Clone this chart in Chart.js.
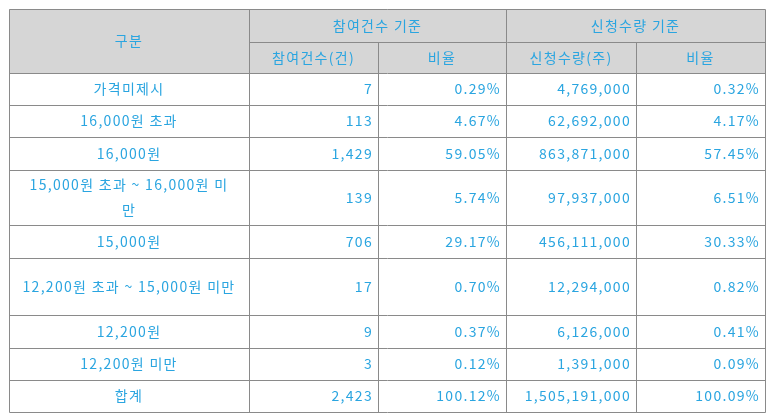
<!DOCTYPE html>
<html><head><meta charset="utf-8">
<script src="https://cdn.jsdelivr.net/npm/chart.js@4"></script>
<style>html,body{margin:0;padding:0;background:#fff}#w{width:773px;height:420px}</style>
</head><body><div id="w"><canvas id="c"></canvas></div>
<script>
const categories = ["가격미제시","16,000원 초과","16,000원","15,000원 초과 ~ 16,000원 미\n만","15,000원","12,200원 초과 ~ 15,000원 미만","12,200원","12,200원 미만","합계"];
const countValues = ["7","113","1,429","139","706","17","9","3","2,423"];
const countRatio = ["0.29%","4.67%","59.05%","5.74%","29.17%","0.70%","0.37%","0.12%","100.12%"];
const qtyValues = ["4,769,000","62,692,000","863,871,000","97,937,000","456,111,000","12,294,000","6,126,000","1,391,000","1,505,191,000"];
const qtyRatio = ["0.32%","4.17%","57.45%","6.51%","30.33%","0.82%","0.41%","0.09%","100.09%"];
const groupHeaders = ["구분","참여건수 기준","신청수량 기준"];
const subHeaders = ["참여건수(건)","비율","신청수량(주)","비율"];

// layout (not data)
const colEdges = [0,240,369,497,627,756];
const rowHeights = [33,31,32,32,33,55,33,57,33,32,32];
const rowEdges = [0]; rowHeights.forEach(h=>rowEdges.push(rowEdges[rowEdges.length-1]+h));
const TXT = '#2aa5e0', LINE = '#8a8a8a', HDR = '#d6d6d6';
const FONT = '14px "Noto Sans CJK KR", sans-serif';

const tablePlugin = {
  id:'table',
  afterDraw(chart){
    const ctx = chart.ctx, xs = chart.scales.x, ys = chart.scales.y;
    const X = v=>xs.getPixelForValue(v), Y = v=>ys.getPixelForValue(v);
    ctx.save();
    ctx.fillStyle = HDR;
    ctx.fillRect(X(0),Y(0),X(756)-X(0),Y(rowEdges[2])-Y(0));
    ctx.font = FONT; ctx.fillStyle = TXT; ctx.textBaseline='middle';
    try{ctx.letterSpacing='1.3px';}catch(e){}
    function text(s,x0,x1,r0,r1,align){
      const lines = s.split('\n'); const yc=(Y(rowEdges[r0])+Y(rowEdges[r1]))/2;
      const lh=25;
      lines.forEach((ln,i)=>{
        const y = yc + (i-(lines.length-1)/2)*lh;
        if(align==='right'){ctx.textAlign='right';ctx.fillText(ln,X(colEdges[x1])-5,y);}
        else {ctx.textAlign='center';ctx.fillText(ln,(X(colEdges[x0])+X(colEdges[x1]))/2,y);}
      });
    }
    text(groupHeaders[0],0,1,0,2);
    text(groupHeaders[1],1,3,0,1);
    text(groupHeaders[2],3,5,0,1);
    subHeaders.forEach((s,i)=>text(s,i+1,i+2,1,2));
    const cols=[countValues,countRatio,qtyValues,qtyRatio];
    categories.forEach((c,i)=>{
      text(c,0,1,i+2,i+3);
      cols.forEach((arr,j)=>text(arr[i],j+1,j+2,i+2,i+3,'right'));
    });
    ctx.strokeStyle=LINE; ctx.lineWidth=1;
    const L=(x0,y0,x1,y1)=>{ctx.beginPath();ctx.moveTo(Math.round(x0)+.5,Math.round(y0)+.5);ctx.lineTo(Math.round(x1)+.5,Math.round(y1)+.5);ctx.stroke();};
    const yTop=Y(0), yBot=Y(rowEdges[rowEdges.length-1]);
    L(X(0),yTop,X(756),yTop); L(X(0),yBot,X(756),yBot);
    L(X(0),yTop,X(0),yBot); L(X(756),yTop,X(756),yBot);
    L(X(240),yTop,X(240),yBot); L(X(497),yTop,X(497),yBot);
    L(X(369),Y(rowEdges[1]),X(369),yBot); L(X(627),Y(rowEdges[1]),X(627),yBot);
    L(X(240),Y(rowEdges[1]),X(756),Y(rowEdges[1]));
    for(let r=2;r<rowEdges.length-1;r++) L(X(0),Y(rowEdges[r]),X(756),Y(rowEdges[r]));
    ctx.restore();
  }
};
new Chart(document.getElementById('c'),{
  type:'scatter',
  data:{datasets:[{data:[]}]},
  options:{responsive:true,maintainAspectRatio:false,animation:false,
    layout:{padding:{left:9,top:9,right:8,bottom:8}},
    plugins:{legend:{display:false},tooltip:{enabled:false}},
    scales:{
      x:{type:'linear',min:0,max:756,display:false},
      y:{type:'linear',min:0,max:rowEdges[rowEdges.length-1],reverse:true,display:false}
    }},
  plugins:[tablePlugin]
});
</script></body></html>
